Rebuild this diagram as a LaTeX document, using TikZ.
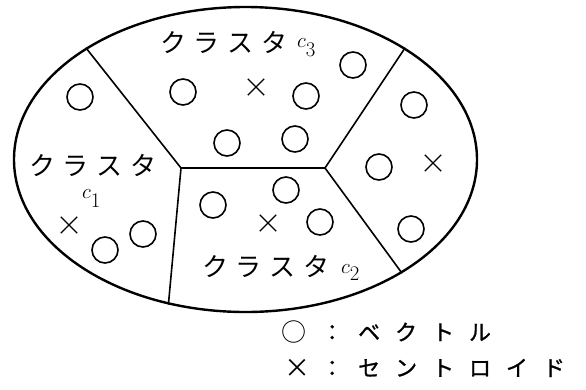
\documentclass[tikz,border=0pt]{standalone}
\usepackage{fontspec}
\setmainfont{Noto Sans CJK JP}
\newfontfamily\clfont[LetterSpace=30]{Noto Sans CJK JP}
\newfontfamily\legfont[LetterSpace=68,FakeBold=1]{Noto Sans CJK JP}
\usetikzlibrary{shapes.geometric,shapes.misc}

\begin{document}
\begin{tikzpicture}[
  x=1pt, y=-1pt,
  vec/.style={circle, draw, line width=1.6pt, minimum size=26pt, inner sep=0pt},
  cent/.style={cross out, draw, line width=1.3pt, minimum size=15pt, inner sep=0pt},
  region/.style={line width=1.6pt},
  clabel/.style={anchor=west, inner sep=0pt, font=\fontsize{26}{26}\clfont},
  csub/.style={anchor=base west, inner sep=0pt, font=\fontsize{20}{20}\selectfont},
  legtext/.style={anchor=west, inner sep=0pt, font=\fontsize{22}{22}\legfont}
]
\useasboundingbox (0,0) rectangle (586,389);

% the whole set
\node[ellipse, draw, line width=2.4pt, inner sep=0pt,
      minimum width=463pt, minimum height=305pt] (oval) at (245.5,159.5) {};

% borders of the clusters
\coordinate (jl) at (181,168);
\coordinate (jr) at (325,168);
\draw[region] (oval.145.4) -- (jl) -- (jr) -- (oval.35.8);
\draw[region] (jr) -- (oval.324.8);
\draw[region] (jl) -- (oval.242.1);

% vectors
\foreach \n/\px/\py in {
  1/80/97, 2/105/250, 3/143/234,
  4/183/92, 5/306/96, 6/353/65, 7/227/143, 8/295/139,
  9/213/205, 10/286/190, 11/320/222,
  12/414/105, 13/379/167, 14/411/229
}{
  \node[vec] (v\n) at (\px,\py) {};
}

% centroids
\foreach \n/\px/\py in {1/69/225, 2/268/223, 3/256/87, 4/433/163}{
  \node[cent] (x\n) at (\px,\py) {};
}

% cluster names
\node[clabel] (l3) at (160,42) {クラスタ};
\node[csub] (s3) at (297,47) {$c$\raisebox{-9pt}{$3$}};
\node[clabel] (l1) at (29,165) {クラスタ};
\node[csub] (s1) at (82,198) {$c$\raisebox{-9pt}{$1$}};
\node[clabel] (l2) at (202,266) {クラスタ};
\node[csub] (s2) at (341,273) {$c$\raisebox{-7pt}{$2$}};

% legend
\node[font=\fontsize{25}{25}\selectfont] (k1) at (294,332) {○};
\node[font=\fontsize{26}{26}\selectfont] (k2) at (297,368) {×};
\node[legtext] (t1) at (321,332) {：ベクトル};
\node[legtext] (t2) at (321,368) {：セントロイド};
\end{tikzpicture}
\end{document}
